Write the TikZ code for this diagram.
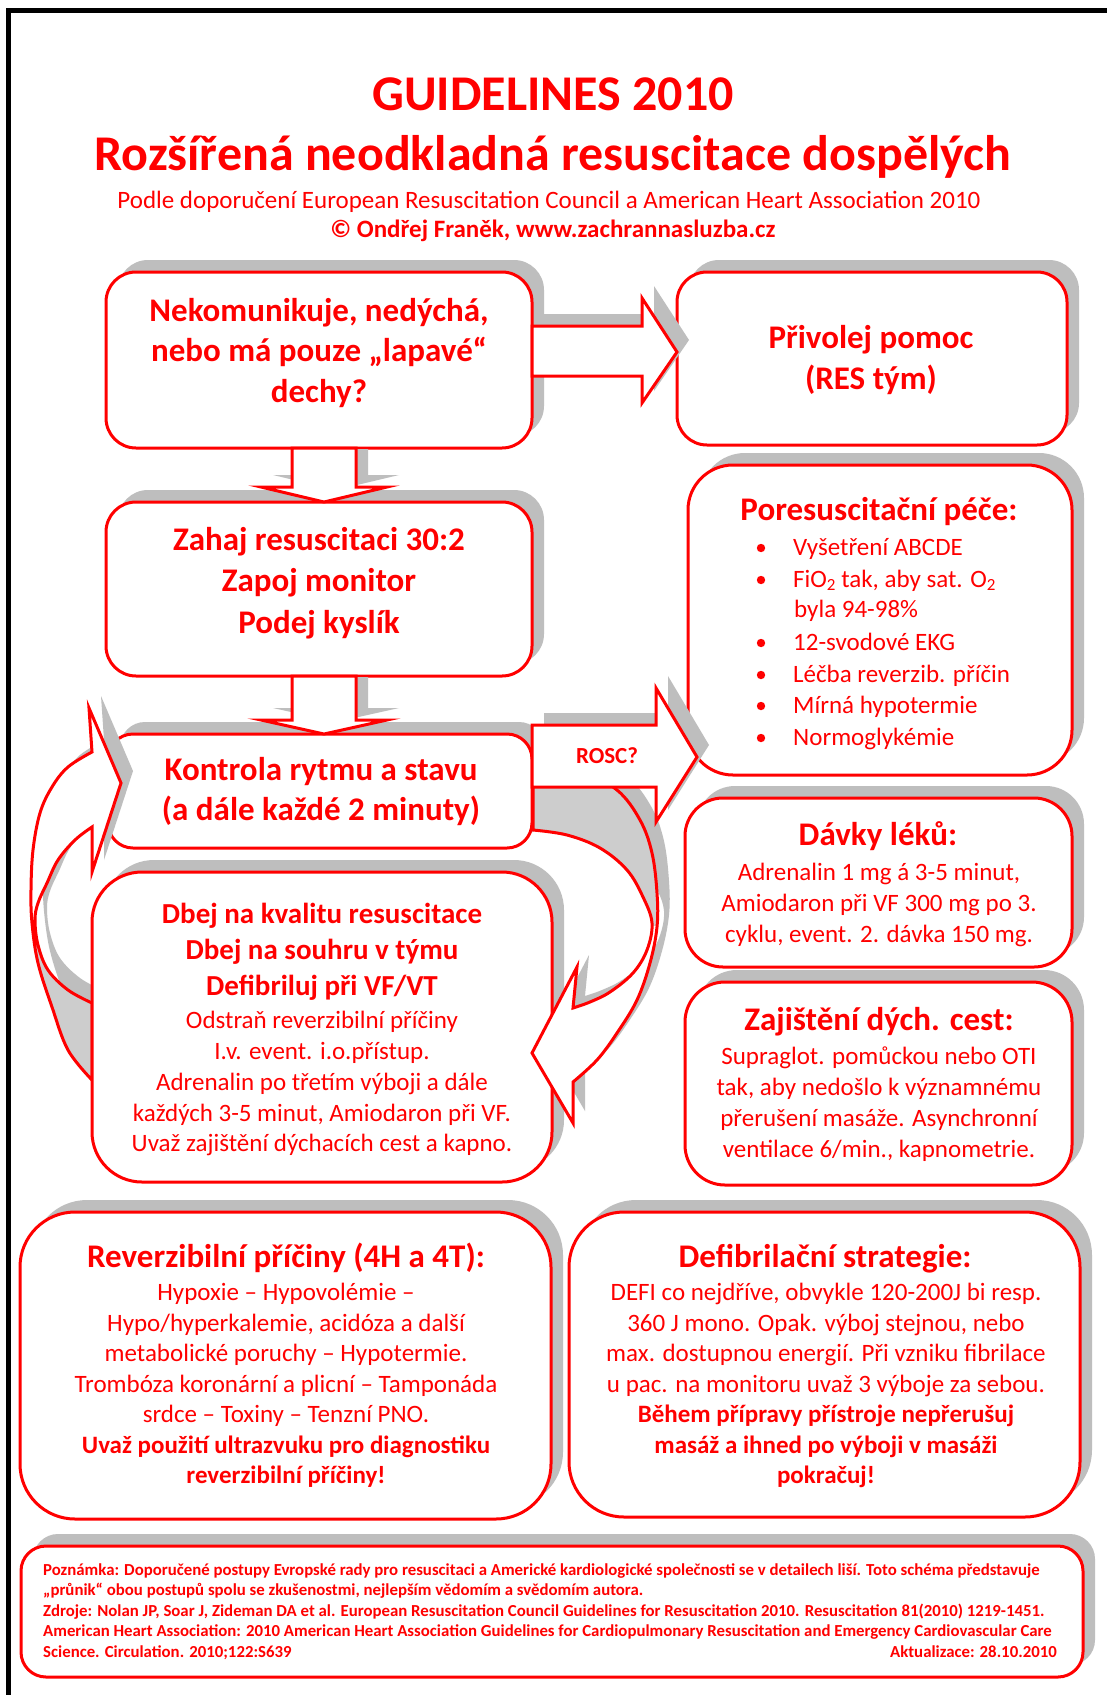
\documentclass[tikz,border=0pt]{standalone}
\usepackage{fontspec}
\setmainfont{Carlito}
\usetikzlibrary{shadows}
\definecolor{rd}{RGB}{255,0,0}
\definecolor{shadowgray}{RGB}{190,190,190}
\definecolor{backgray}{RGB}{205,205,205}
\newcommand\fTitle{\fontsize{50}{60}\selectfont\bfseries}
\newcommand\fHead{\fontsize{33}{40}\selectfont\bfseries}
\newcommand\fMid{\fontsize{29}{35}\selectfont\bfseries}
\newcommand\fBodyB{\fontsize{25}{30}\selectfont\bfseries}
\newcommand\fBody{\fontsize{25}{30}\selectfont}
\newcommand\fSub{\fontsize{25}{30}\selectfont}
\newcommand\fNote{\fontsize{16.8}{20}\selectfont\bfseries}
\newcommand\subtwo{\raisebox{-0.3ex}{\fontsize{17}{17}\selectfont 2}}
\newcommand\pathArrowA{(532,326) -- (642,326) -- (642,298) -- (677,352) -- (642,403) -- (642,376) -- (532,376) -- cycle}
\newcommand\pathArrowB{(292,448) -- (356,448) -- (356,487) -- (387,487) -- (324,502) -- (261,487) -- (292,487) -- cycle}
\newcommand\pathArrowC{(292,676) -- (356,676) -- (356,720) -- (387,720) -- (324,734) -- (261,720) -- (292,720) -- cycle}
\newcommand\pathArrowR{(532,725) -- (656,725) -- (656,688) -- (697,757) -- (656,822) -- (656,787) -- (532,787) -- cycle}
\newcommand\pathLeftArrow{(92,1080) -- plot[smooth, tension=0.6] coordinates {(92,1080) (68,1050) (52,1007) (38,963) (32,923) (31,890) (33,850) (40,813) (52,787) (68,767) (92,752)} -- (89,708) -- (121,783) -- (92,872) -- (92,827) -- plot[smooth, tension=0.6] coordinates {(92,827) (75,840) (58,860) (47,883) (38,903) (35,920) (38,945) (48,970) (68,990) (92,1003)} -- cycle}
\newcommand\pathRightArrow{(533,760) -- plot[smooth, tension=0.6] coordinates {(533,760) (580,771) (617,790) (640,820) (652,853) (657,893) (657,927) (650,963) (637,1000) (617,1033) (597,1060) (573,1082)} -- (573,1123) -- (532,1053) -- (577,967) -- (573,1008) -- plot[smooth, tension=0.6] coordinates {(573,1008) (590,1002) (610,992) (633,973) (647,950) (652,923) (643,897) (627,870) (600,848) (567,835) (533,830)} -- cycle}
\tikzset{
  rbox/.style={draw=rd, line width=3pt, fill=white, rounded corners=#1, inner sep=0pt, outer sep=0pt,
     drop shadow={shadow xshift=12pt, shadow yshift=12pt, opacity=1, fill=shadowgray, draw=none}},
  txt/.style={text=rd, anchor=base, inner sep=0pt},
  txtl/.style={text=rd, anchor=base west, inner sep=0pt},
  txtr/.style={text=rd, anchor=base east, inner sep=0pt},
  barrow/.style={draw=rd, line width=3pt, fill=white, line join=miter},
  redline/.style={draw=rd, line width=3pt, line join=miter},
}
\begin{document}
\begin{tikzpicture}[x=1pt, y=-1pt]
\useasboundingbox (0,0) rectangle (1107,1695);
\fill[white] (0,0) rectangle (1107,1695);
% page frame
\draw[line width=5pt, black, line join=miter] (8,1695) -- (8,10) -- (1107,10);
% titles
\node[txt, font=\fTitle] (title1) at (553,110) {GUIDELINES 2010};
\node[txt, font=\fTitle] (title2) at (553,170) {Rozšířená neodkladná resuscitace dospělých};
\node[txt, font=\fSub] (title3) at (549,208) {Podle doporučení European Resuscitation Council a American Heart Association 2010};
\node[txt, font=\fBodyB] (title4) at (553,237) {© Ondřej Franěk, www.zachrannasluzba.cz};
% box 1
\node[rbox=30pt, minimum width=426pt, minimum height=176pt] (b1) at (319,360) {};
\node[txt, font=\fHead] (b1a) at (319,321) {Nekomunikuje, nedýchá,};
\node[txt, font=\fHead] (b1b) at (319,361) {nebo má pouze „lapavé“};
\node[txt, font=\fHead] (b1c) at (319,402) {dechy?};
% box 2
\node[rbox=30pt, minimum width=390pt, minimum height=173pt] (b2) at (872,358.5) {};
\node[txt, font=\fHead] (b2a) at (871,348) {Přivolej pomoc};
\node[txt, font=\fHead] (b2b) at (871,389) {(RES tým)};
% box 3
\node[rbox=30pt, minimum width=426pt, minimum height=174pt] (b3) at (319,589) {};
\node[txt, font=\fHead] (b3a) at (319,550) {Zahaj resuscitaci 30:2};
\node[txt, font=\fHead] (b3b) at (319,591) {Zapoj monitor};
\node[txt, font=\fHead] (b3c) at (319,633) {Podej kyslík};
% box 4
\node[rbox=25pt, minimum width=424pt, minimum height=114pt] (b4) at (320,791) {};
\node[txt, font=\fHead] (b4a) at (321,780) {Kontrola rytmu a stavu};
\node[txt, font=\fHead] (b4b) at (321,820) {(a dále každé 2 minuty)};
% straight block arrows
\fill[shadowgray, shift={(12,-12)}] \pathArrowA;
\draw[barrow] \pathArrowA;
\begin{scope}
\clip (0,449) rectangle (1107,1695);
\fill[shadowgray, shift={(12,-12)}] \pathArrowB;
\end{scope}
\draw[barrow] \pathArrowB;
\begin{scope}
\clip (0,677) rectangle (1107,1695);
\fill[shadowgray, shift={(12,-12)}] \pathArrowC;
\end{scope}
\draw[barrow] \pathArrowC;
% left curved arrow
\fill[shadowgray, shift={(12,-12)}] \pathLeftArrow;
\fill[white] \pathLeftArrow;
\begin{scope}
\clip (0,921) rectangle (200,1200);
\fill[backgray] \pathLeftArrow;
\end{scope}
\draw[redline] \pathLeftArrow;
% box 5
\node[rbox=50pt, minimum width=460pt, minimum height=310pt] (b5) at (322,1027) {};
\node[txt, font=\fMid] (b5a) at (322,923) {Dbej na kvalitu resuscitace};
\node[txt, font=\fMid] (b5b) at (322,959) {Dbej na souhru v týmu};
\node[txt, font=\fMid] (b5c) at (322,995) {Defibriluj při VF/VT};
\node[txt, font=\fBody] (b5d) at (322,1028) {Odstraň reverzibilní příčiny};
\node[txt, font=\fBody] (b5e) at (322,1059) {I.v. event. i.o.přístup.};
\node[txt, font=\fBody] (b5f) at (322,1090) {Adrenalin po třetím výboji a dále};
\node[txt, font=\fBody] (b5g) at (322,1121) {každých 3-5 minut, Amiodaron při VF.};
\node[txt, font=\fBody] (b5h) at (322,1151) {Uvaž zajištění dýchacích cest a kapno.};
% right curved arrow
\fill[shadowgray, shift={(12,-12)}] \pathRightArrow;
\fill[white] \pathRightArrow;
\begin{scope}
\clip (400,600) rectangle (800,925);
\fill[backgray] \pathRightArrow;
\end{scope}
\draw[redline] \pathRightArrow;
% box 6
\node[rbox=45pt, minimum width=384pt, minimum height=310pt] (b6) at (880,620) {};
\node[txt, font=\fHead] (b6t) at (879,520) {Poresuscitační péče:};
\node[txtl, font=\fBody] (b6a) at (793,555) {Vyšetření ABCDE};
\node[txtl, font=\fBody] (b6b) at (793,587) {FiO\subtwo{} tak, aby sat. O\subtwo};
\node[txtl, font=\fBody] (b6c) at (794,617) {byla 94-98\%};
\node[txtl, font=\fBody] (b6d) at (793,650) {12-svodové EKG};
\node[txtl, font=\fBody] (b6e) at (793,682) {Léčba reverzib. příčin};
\node[txtl, font=\fBody] (b6f) at (793,713) {Mírná hypotermie};
\node[txtl, font=\fBody] (b6g) at (793,745) {Normoglykémie};
\foreach \yy in {548,580,643,675,706,738} {\fill[rd] (761,\yy) circle (4.2);}
% box 7
\node[rbox=38pt, minimum width=387pt, minimum height=169pt] (b7) at (878.5,882.5) {};
\node[txt, font=\fHead] (b7t) at (878,845) {Dávky léků:};
\node[txt, font=\fBody] (b7a) at (879,880) {Adrenalin 1 mg á 3-5 minut,};
\node[txt, font=\fBody] (b7b) at (879,911) {Amiodaron při VF 300 mg po 3.};
\node[txt, font=\fBody] (b7c) at (879,942) {cyklu, event. 2. dávka 150 mg.};
% box 8
\node[rbox=40pt, minimum width=387pt, minimum height=203pt] (b8) at (878.5,1083.5) {};
\node[txt, font=\fHead] (b8t) at (879,1030) {Zajištění dých. cest:};
\node[txt, font=\fBody] (b8a) at (879,1064) {Supraglot. pomůckou nebo OTI};
\node[txt, font=\fBody] (b8b) at (879,1095) {tak, aby nedošlo k významnému};
\node[txt, font=\fBody] (b8c) at (879,1126) {přerušení masáže. Asynchronní};
\node[txt, font=\fBody] (b8d) at (879,1157) {ventilace 6/min., kapnometrie.};
% ROSC arrow
\fill[shadowgray, shift={(12,-12)}] \pathArrowR;
\draw[barrow] \pathArrowR;
\node[txt, font=\fontsize{23}{28}\selectfont\bfseries] (rosc) at (607,763) {ROSC?};
% box 9
\node[rbox=55pt, minimum width=531pt, minimum height=307pt] (b9) at (285.5,1365.5) {};
\node[txt, font=\fHead] (b9t) at (286,1267) {Reverzibilní příčiny (4H a 4T):};
\node[txt, font=\fBody] (b9a) at (286,1300) {Hypoxie – Hypovolémie –};
\node[txt, font=\fBody] (b9b) at (286,1331) {Hypo/hyperkalemie, acidóza a další};
\node[txt, font=\fBody] (b9c) at (286,1361) {metabolické poruchy – Hypotermie.};
\node[txt, font=\fBody] (b9d) at (286,1392) {Trombóza koronární a plicní – Tamponáda};
\node[txt, font=\fBody] (b9e) at (286,1422) {srdce – Toxiny – Tenzní PNO.};
\node[txt, font=\fBodyB] (b9f) at (286,1453) {Uvaž použití ultrazvuku pro diagnostiku};
\node[txt, font=\fBodyB] (b9g) at (286,1483) {reverzibilní příčiny!};
% box 10
\node[rbox=55pt, minimum width=511pt, minimum height=305pt] (b10) at (824.5,1364.5) {};
\node[txt, font=\fHead] (b10t) at (825,1267) {Defibrilační strategie:};
\node[txt, font=\fBody] (b10a) at (826,1300) {DEFI co nejdříve, obvykle 120-200J bi resp.};
\node[txt, font=\fBody] (b10b) at (826,1331) {360 J mono. Opak. výboj stejnou, nebo};
\node[txt, font=\fBody] (b10c) at (826,1361) {max. dostupnou energií. Při vzniku fibrilace};
\node[txt, font=\fBody] (b10d) at (826,1392) {u pac. na monitoru uvaž 3 výboje za sebou.};
\node[txt, font=\fBodyB] (b10e) at (826,1422) {Během přípravy přístroje nepřerušuj};
\node[txt, font=\fBodyB] (b10f) at (826,1453) {masáž a ihned po výboji v masáži};
\node[txt, font=\fBodyB] (b10g) at (826,1483) {pokračuj!};
% box 11 (note)
\node[rbox=25pt, minimum width=1062pt, minimum height=131pt] (b11) at (552,1611.5) {};
\node[txtl, font=\fNote] (n1) at (43,1575) {Poznámka: Doporučené postupy Evropské rady pro resuscitaci a Americké kardiologické společnosti se v detailech liší. Toto schéma představuje};
\node[txtl, font=\fNote] (n2) at (43,1595.5) {„průnik“ obou postupů spolu se zkušenostmi, nejlepším vědomím a svědomím autora.};
\node[txtl, font=\fNote] (n3) at (43,1616) {Zdroje: Nolan JP, Soar J, Zideman DA et al. European Resuscitation Council Guidelines for Resuscitation 2010. Resuscitation 81(2010) 1219-1451.};
\node[txtl, font=\fNote] (n4) at (43,1636.5) {American Heart Association: 2010 American Heart Association Guidelines for Cardiopulmonary Resuscitation and Emergency Cardiovascular Care};
\node[txtl, font=\fNote] (n5) at (43,1657) {Science. Circulation. 2010;122:S639};
\node[txtr, font=\fNote] (n6) at (1057,1657) {Aktualizace: 28.10.2010};
\end{tikzpicture}
\end{document}
